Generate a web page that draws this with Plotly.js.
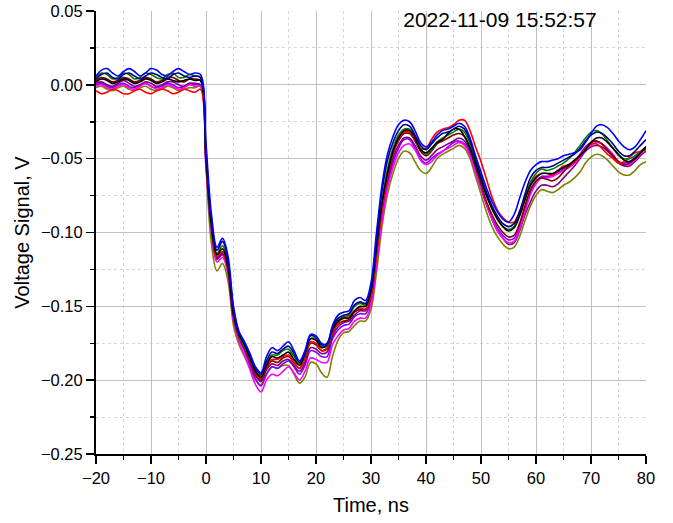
<!DOCTYPE html>
<html><head><meta charset="utf-8">
<script src="https://cdn.plot.ly/plotly-3.0.1.min.js"></script>
<style>html,body{margin:0;padding:0;background:#fff}#chart{width:673px;height:523px}</style>
</head><body><div id="chart"></div>
<script>
// Time, ns
const time = [-20,-19,-18,-17,-16,-15,-14,-13,-12,-11,-10,-9,-8,-7,-6,-5,-4,-3,-2,-1,
  0,1,2,3,4,5,6,7,8,9,10,11,12,13,14,15,16,17,18,19,20,21,22,23,24,25,26,27,28,29,
  30,31,32,33,34,35,36,37,38,39,40,41,42,43,44,45,46,47,48,49,50,51,52,53,54,55,56,57,58,59,
  60,61,62,63,64,65,66,67,68,69,70,71,72,73,74,75,76,77,78,79,80];

// Voltage signal values in mV
const black = [2,4,3,1,2,4,3,1,2,4,3,1,2,4,3,2,3,4,3,3,
  -50,-95,-115,-111,-124,-156,-169,-176,-185,-194,
  -198,-190,-184,-185,-183,-181,-186,-190,-182,-172,
  -173,-178,-176,-166,-160,-158,-158,-153,-150,-150,
  -140,-110,-80,-60,-45,-36,-31,-31,-36,-44,
  -46,-43,-39,-37,-33,-30,-30,-35,-43,-54,
  -64,-75,-84,-91,-96,-99,-97,-89,-78,-68,
  -63,-60,-60,-60,-58,-56,-54,-51,-48,-44,
  -39,-36,-36,-39,-43,-47,-51,-52,-50,-46,-42];
const red = [-4,-6,-5,-3,-4,-6,-6,-4,-3,-5,-6,-4,-3,-4,-6,-5,-3,-4,-5,-3,
  -52,-97,-116,-113,-126,-157,-170,-177,-186,-195,
  -199,-191,-186,-186,-184,-183,-188,-192,-184,-174,
  -175,-180,-178,-168,-161,-158,-157,-153,-151,-152,
  -143,-115,-84,-62,-46,-37,-32,-32,-37,-43,
  -43,-37,-32,-30,-29,-27,-24,-24,-31,-42,
  -52,-64,-76,-85,-90,-93,-93,-86,-76,-67,
  -62,-60,-60,-61,-58,-55,-54,-52,-48,-43,
  -40,-40,-43,-47,-50,-53,-52,-49,-46,-45,-44];
const blue = [6,10,11,8,6,9,11,9,6,8,11,10,7,6,9,11,9,7,8,7,
  -40,-88,-110,-104,-116,-150,-167,-174,-182,-191,
  -195,-184,-178,-180,-177,-174,-180,-187,-180,-169,
  -170,-175,-176,-163,-156,-154,-153,-146,-144,-146,
  -134,-100,-68,-47,-35,-27,-24,-25,-31,-39,
  -42,-39,-34,-31,-30,-28,-26,-28,-36,-48,
  -59,-70,-79,-86,-91,-93,-88,-77,-66,-58,
  -54,-52,-52,-51,-50,-48,-47,-46,-44,-39,
  -33,-28,-27,-29,-33,-38,-42,-44,-42,-37,-31];
const magenta = [-1,0,-2,-3,-1,0,-2,-3,-1,1,-1,-3,-2,0,-1,-3,-2,0,-1,-1,
  -55,-100,-120,-117,-128,-160,-174,-183,-193,-203,
  -208,-200,-196,-197,-194,-191,-195,-200,-194,-185,
  -186,-188,-188,-176,-170,-166,-165,-160,-158,-158,
  -149,-122,-92,-70,-56,-46,-41,-40,-44,-51,
  -54,-52,-48,-45,-43,-41,-39,-41,-48,-59,
  -70,-81,-91,-99,-104,-107,-106,-98,-86,-74,
  -67,-63,-63,-62,-60,-58,-56,-53,-49,-44,
  -41,-39,-40,-43,-47,-52,-54,-54,-51,-47,-44];
const olive = [-2,-1,-3,-4,-2,-1,-3,-4,-2,-1,-3,-4,-3,-1,-2,-4,-3,-2,-2,-1,
  -56,-108,-126,-121,-133,-163,-176,-184,-192,-200,
  -203,-196,-191,-192,-190,-190,-196,-202,-198,-188,
  -189,-195,-198,-184,-173,-168,-167,-163,-160,-160,
  -152,-127,-96,-74,-60,-50,-45,-46,-52,-58,
  -60,-56,-50,-47,-45,-43,-41,-43,-50,-62,
  -74,-86,-96,-103,-108,-111,-110,-103,-92,-82,
  -75,-71,-72,-73,-71,-68,-66,-63,-59,-53,
  -49,-47,-48,-51,-55,-59,-61,-61,-58,-54,-52];
const navy = [4,7,8,5,4,7,8,6,4,6,8,7,5,4,7,8,6,5,6,5,
  -45,-92,-112,-106,-119,-152,-168,-175,-183,-192,
  -196,-187,-181,-182,-179,-177,-182,-188,-181,-170,
  -171,-176,-175,-164,-158,-156,-155,-149,-147,-148,
  -137,-104,-72,-51,-39,-31,-27,-28,-34,-41,
  -44,-40,-36,-33,-32,-30,-28,-30,-38,-50,
  -62,-73,-82,-89,-94,-96,-94,-86,-74,-63,
  -58,-56,-56,-55,-53,-51,-49,-47,-43,-38,
  -34,-32,-33,-36,-40,-45,-48,-48,-45,-41,-37];
const violet = [0,1,-1,-2,0,1,-1,-2,0,1,-1,-2,-1,1,0,-2,-1,1,0,0,
  -53,-99,-118,-115,-127,-159,-172,-180,-190,-199,
  -204,-196,-191,-192,-189,-187,-191,-196,-190,-180,
  -181,-184,-184,-172,-166,-163,-162,-157,-155,-155,
  -147,-120,-90,-68,-53,-43,-37,-37,-43,-50,
  -53,-50,-47,-45,-42,-39,-38,-40,-47,-58,
  -70,-81,-90,-97,-102,-105,-104,-96,-84,-73,
  -66,-62,-62,-61,-59,-57,-55,-52,-47,-42,
  -39,-38,-40,-44,-48,-52,-53,-52,-49,-46,-43];
const purple = [1,2,0,-1,1,3,1,-1,0,2,1,-1,0,2,2,0,-1,1,1,0,
  -52,-98,-118,-114,-126,-158,-171,-179,-188,-197,
  -201,-193,-189,-190,-187,-186,-190,-194,-188,-178,
  -179,-182,-181,-170,-164,-161,-160,-156,-153,-153,
  -145,-117,-87,-65,-50,-41,-36,-36,-41,-48,
  -51,-48,-44,-42,-40,-38,-36,-38,-45,-57,
  -69,-81,-91,-99,-104,-108,-107,-99,-88,-79,
  -72,-68,-68,-69,-67,-63,-59,-55,-50,-45,
  -42,-41,-42,-45,-49,-53,-55,-55,-52,-48,-45];
const wine = [3,5,4,2,3,5,4,2,3,5,4,2,3,5,5,3,2,4,4,3,
  -50,-97,-117,-113,-125,-157,-171,-178,-187,-196,
  -200,-192,-187,-188,-185,-184,-188,-192,-185,-175,
  -176,-180,-179,-168,-162,-160,-159,-154,-152,-152,
  -143,-114,-83,-62,-47,-38,-33,-33,-38,-45,
  -48,-45,-40,-38,-36,-34,-33,-35,-43,-55,
  -67,-79,-88,-95,-100,-103,-102,-94,-82,-71,
  -65,-63,-64,-65,-63,-59,-55,-52,-48,-43,
  -39,-38,-40,-44,-48,-52,-54,-53,-50,-46,-42];
const green = [5,8,7,4,5,8,7,4,5,8,7,5,4,7,8,5,5,7,6,5,
  -48,-96,-114,-109,-122,-155,-170,-177,-185,-194,
  -197,-189,-183,-183,-180,-179,-184,-189,-182,-172,
  -172,-177,-177,-165,-159,-157,-156,-150,-148,-149,
  -140,-110,-79,-57,-43,-34,-30,-30,-35,-43,
  -47,-44,-39,-36,-34,-32,-30,-32,-40,-52,
  -64,-75,-84,-91,-96,-98,-96,-88,-77,-66,
  -60,-57,-58,-57,-55,-53,-50,-46,-41,-36,
  -32,-31,-33,-38,-43,-48,-50,-50,-48,-45,-42];

const seriesNames  = ['Olive','Violet','Purple','Magenta','Wine','Red','Green','Black','Navy','Blue'];
const seriesData   = [olive, violet, purple, magenta, wine, red, green, black, navy, blue];
const seriesColors = ['#808000','#8000ff','#800080','#ff00ff','#800000','#ff0000','#008000','#000000','#000080','#0000ff'];

const mVtoV = 0.001;
const traces = seriesData.map((s, i) => ({
  x: time, y: s.map(v => v * mVtoV), type: 'scatter', mode: 'lines',
  name: seriesNames[i], hoverinfo: 'skip',
  line: {color: seriesColors[i], width: 1.6, shape: 'spline', smoothing: 1}
}));

const fontFam = 'Arial, "Liberation Sans", sans-serif';
const axisCommon = {
  showline: true, linecolor: '#000', linewidth: 2, mirror: false,
  ticks: 'outside', ticklen: 8, tickwidth: 1.5, tickcolor: '#000',
  showgrid: true, gridcolor: '#c0c0c0', gridwidth: 1, zeroline: false,
  tickfont: {family: fontFam, size: 16.5, color: '#000'},
  automargin: false
};

const layout = {
  width: 673, height: 523,
  margin: {l: 96, r: 27, t: 11, b: 69},
  paper_bgcolor: '#fff', plot_bgcolor: '#fff',
  showlegend: false,
  font: {family: fontFam, color: '#000'},
  title: {text: '2022-11-09 15:52:57', font: {family: fontFam, size: 21, color: '#000'},
    xref: 'container', yref: 'container', x: 500/673, xanchor: 'center', y: 1 - 20/523, yanchor: 'middle'},
  xaxis: Object.assign({}, axisCommon, {
    range: [-20, 80], tick0: 0, dtick: 10,
    title: {text: 'Time, ns', font: {family: fontFam, size: 20, color: '#000'}, standoff: 12},
    minor: {dtick: 5, ticks: 'outside', ticklen: 4, tickwidth: 1.5, tickcolor: '#000',
      showgrid: true, gridcolor: '#d6d6d6', gridwidth: 1, griddash: 'dot'}
  }),
  yaxis: Object.assign({}, axisCommon, {
    range: [-0.25, 0.05], tick0: 0, dtick: 0.05, tickformat: '.2f',
    title: {text: 'Voltage Signal, V', font: {family: fontFam, size: 20, color: '#000'}, standoff: 6},
    minor: {dtick: 0.025, ticks: 'outside', ticklen: 4, tickwidth: 1.5, tickcolor: '#000',
      showgrid: true, gridcolor: '#d6d6d6', gridwidth: 1, griddash: 'dot'}
  })
};

Plotly.newPlot('chart', traces, layout, {staticPlot: true, displayModeBar: false});
</script>
</body></html>
